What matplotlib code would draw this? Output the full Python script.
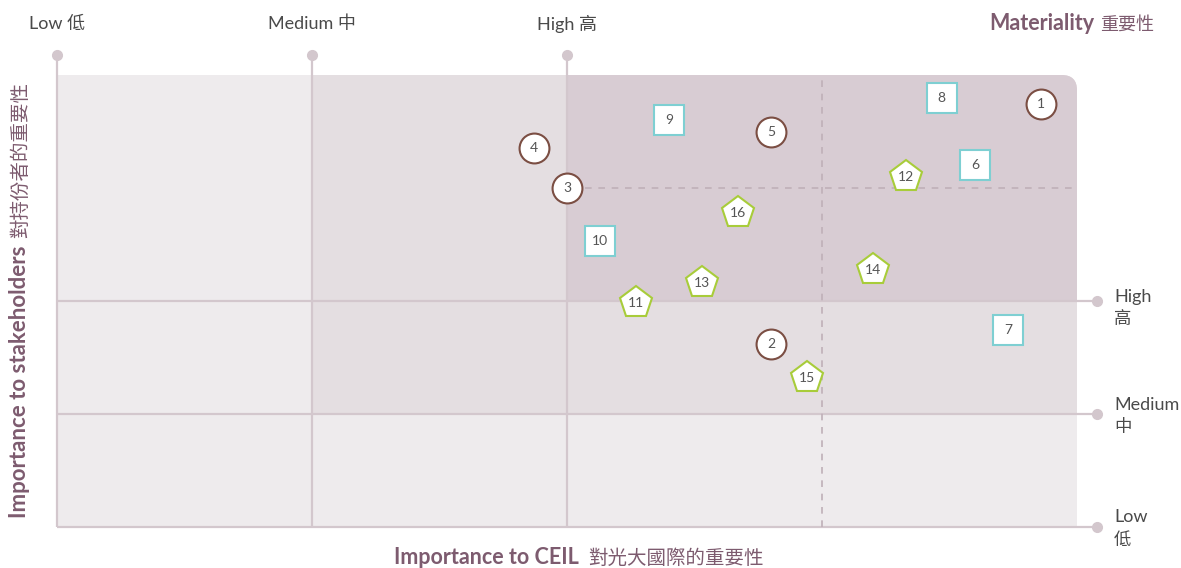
import matplotlib
matplotlib.use("Agg")
import matplotlib.pyplot as plt
from matplotlib.patches import Rectangle, FancyBboxPatch

# topic positions: x = importance to CEIL, y = importance to stakeholders (0..4 grid units)
circle_ids = [1, 2, 3, 4, 5]
circle_x = [3.86, 2.80, 2.00, 1.87, 2.80]
circle_y = [3.74, 1.62, 3.00, 3.35, 3.50]

square_ids = [6, 7, 8, 9, 10]
square_x = [3.60, 3.73, 3.47, 2.40, 2.13]
square_y = [3.20, 1.74, 3.80, 3.60, 2.53]

penta_ids = [11, 12, 13, 14, 15, 16]
penta_x = [2.27, 3.33, 2.53, 3.20, 2.94, 2.67]
penta_y = [1.98, 3.10, 2.16, 2.27, 1.32, 2.78]

levels = ["Low 低", "Medium 中", "High 高"]
levels_en = ["Low", "Medium", "High"]
levels_zh = ["低", "中", "高"]

W, H = 1181, 568
LIGHT = "#eeebed"
MID = "#e4dee1"
DARK = "#d8ccd3"
GRID = "#d3c7cd"
PURPLE = "#7d5b6f"
TXT = "#4a4a4a"
FONT = ["Lato", "Noto Sans CJK TC", "DejaVu Sans"]
plt.rcParams["font.family"] = FONT

fig = plt.figure(figsize=(W / 100, H / 100), dpi=100)
ax = fig.add_axes([57 / W, (H - 527) / H, 1020 / W, 452 / H])
ax.set_xlim(0, 4)
ax.set_ylim(0, 4)
ax.axis("off")

def px(x, y):
    return x / W, 1 - y / H

# background shading, top right corner rounded
aspect = 255 / 113
clip = FancyBboxPatch((-1, -1), 5, 5, boxstyle="round,pad=0,rounding_size=0.06",
                      mutation_aspect=aspect, transform=ax.transData,
                      facecolor="none", edgecolor="none")
ax.add_patch(clip)
ax.add_patch(Rectangle((0, 0), 4, 4, facecolor=LIGHT, edgecolor="none", zorder=0))
corner = Rectangle((3.9, 3.8), 0.1, 0.2, facecolor="white", edgecolor="none", zorder=0.4)
ax.add_patch(corner)
r = Rectangle((1, 1), 3, 3, facecolor=MID, edgecolor="none", zorder=0.5)
ax.add_patch(r)
r.set_clip_path(clip)
r2 = Rectangle((2, 2), 2, 2, facecolor=DARK, edgecolor="none", zorder=0.6)
ax.add_patch(r2)
r2.set_clip_path(clip)

# grid lines with end dots
ytop = (527 - 55) / 113
xend = (1097 - 57) / 255
for gx in [0, 1, 2]:
    ax.plot([gx, gx], [0, ytop], color=GRID, lw=1.6, zorder=1, clip_on=False,
            solid_capstyle="butt")
    ax.plot([gx], [ytop], "o", color=GRID, ms=7, zorder=1, clip_on=False)
for gy in [0, 1, 2]:
    ax.plot([0, xend], [gy, gy], color=GRID, lw=1.6, zorder=1, clip_on=False,
            solid_capstyle="butt")
    ax.plot([xend], [gy], "o", color=GRID, ms=7, zorder=1, clip_on=False)

ax.plot([3, 3], [0, 4], color="#bfb0b8", lw=1.2, ls=(0, (4, 4)), zorder=1)
ax.plot([(585 - 57) / 255, 4], [3, 3], color="#bfb0b8", lw=1.2, ls=(0, (4, 4)), zorder=1)

# markers
ax.plot(circle_x, circle_y, "o", ms=21.5, mfc="white", mec="#7b4e43", mew=1.5,
        ls="none", zorder=3)
ax.plot(square_x, square_y, "s", ms=22, mfc="white", mec="#7ecfd2", mew=1.5,
        ls="none", zorder=3)
ax.plot(penta_x, penta_y, "p", ms=24, mfc="white", mec="#a8cc3a", mew=1.5,
        ls="none", zorder=3)
for ids, xs, ys in [(circle_ids, circle_x, circle_y), (square_ids, square_x, square_y),
                    (penta_ids, penta_x, penta_y)]:
    for i, x, y in zip(ids, xs, ys):
        ax.text(x, y, str(i), ha="center", va="center", fontsize=10, color="#555555",
                zorder=4)

# top level labels
for gx, lab in zip([57, 312, 567], levels):
    fig.text(*px(gx, 24), lab, ha="center", va="center", fontsize=13, color=TXT)
# right level labels
for en, zh, ye, yz in zip(levels_en, levels_zh, [517, 405, 297], [540, 427, 319]):
    fig.text(*px(1114, ye), en, ha="left", va="center", fontsize=13, color=TXT)
    fig.text(*px(1114, yz), zh, ha="left", va="center", fontsize=12.5, color=TXT)

# title
fig.text(*px(1094, 24), "Materiality", ha="right", va="center", fontsize=15.5,
         fontweight="bold", color=PURPLE)
fig.text(*px(1100, 24), "重要性", ha="left", va="center", fontsize=13, color=PURPLE)

# axis titles
fig.text(*px(579, 558), "Importance to CEIL", ha="right", va="center", fontsize=15.5,
         fontweight="bold", color=PURPLE)
fig.text(*px(588, 558), "對光大國際的重要性", ha="left", va="center", fontsize=14,
         color=PURPLE)
fig.text(*px(20, 246), "Importance to stakeholders", ha="center", va="top",
         rotation=90, fontsize=16, fontweight="bold", color=PURPLE)
fig.text(*px(20, 238), "對持份者的重要性", ha="center", va="bottom",
         rotation=90, fontsize=14, color=PURPLE)

fig.savefig("out.png", dpi=100, facecolor="white")
